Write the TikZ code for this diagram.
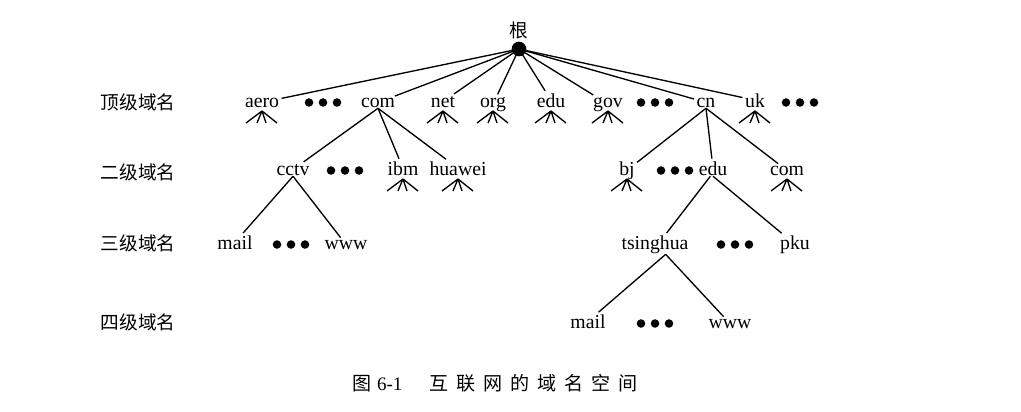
\documentclass[tikz,border=0pt]{standalone}
\usepackage{fontspec}
\setmainfont{Liberation Serif}
\newfontfamily\cjk{Noto Sans CJK SC}
\newfontfamily\cjkcap[LetterSpace=42]{Noto Sans CJK SC}
\usetikzlibrary{calc}
\begin{document}
\begin{tikzpicture}[x=0.75pt,y=-0.75pt, line width=1pt,
  nm/.style={font=\fontsize{14.8pt}{17pt}\selectfont, inner sep=0.3pt, anchor=base},
  lv/.style={font=\cjk\fontsize{14pt}{17pt}\selectfont, inner sep=0pt, anchor=base},
  link/.style={shorten >=1.2pt},
  fan/.pic={\draw (0,0) -- (-16,12) (0,0) -- (-5,12) (0,0) -- (4,12) (0,0) -- (15,12);},
  ell/.pic={\foreach \i in {-14,0,14} \fill (\i,0) circle[radius=3.2pt];}
]
\useasboundingbox (0,0) rectangle (1021,411);

% root
\node[font=\cjk\fontsize{14pt}{16pt}\selectfont, inner sep=0pt] (rootlbl) at (519,30) {根};
\node[circle, fill, inner sep=0pt, minimum size=11pt] (root) at (519,49) {};

% level labels
\node[lv] (L1) at (138,109) {顶级域名};
\node[lv] (L2) at (138,179) {二级域名};
\node[lv] (L3) at (138,250) {三级域名};
\node[lv] (L4) at (138,329) {四级域名};

% top level
\node[nm] (aero) at (262,107) {aero};
\node[nm] (com)  at (378,107) {com};
\node[nm] (net)  at (443,107) {net};
\node[nm] (org)  at (493,107) {org};
\node[nm] (tedu) at (551,107) {edu};
\node[nm] (gov)  at (608,107) {gov};
\node[nm] (cn)   at (706,107) {cn};
\node[nm] (uk)   at (755,107) {uk};
\pic at (323,102.5) {ell};
\pic at (655,102.5) {ell};
\pic at (800,102.5) {ell};

% second level
\node[nm] (cctv)   at (293,175) {cctv};
\node[nm] (ibm)    at (403,175) {ibm};
\node[nm] (huawei) at (458,175) {huawei};
\node[nm] (bj)     at (627,175) {bj};
\node[nm] (cedu)   at (713,175) {edu};
\node[nm] (ccom)   at (787,175) {com};
\pic at (345,170.5) {ell};
\pic at (675,170.5) {ell};

% third level
\node[nm] (mail1)    at (235,249) {mail};
\node[nm] (www1)     at (346,249) {www};
\node[nm] (tsinghua) at (655,249) {tsinghua};
\node[nm] (pku)      at (795,249) {pku};
\pic at (291,244.5) {ell};
\pic at (735,244.5) {ell};

% fourth level
\node[nm] (mail2) at (588,328) {mail};
\node[nm] (www2)  at (730,328) {www};
\pic at (655,323.5) {ell};

% connectors
\foreach \n in {aero,com,net,org,tedu,gov,cn,uk} \draw[link] (root.center) -- (\n);
\draw[link] (com.south) -- (cctv);
\draw[link] (com.south) -- (ibm);
\draw[link] (com.south) -- (huawei);
\draw[link] (cn.south) -- (bj);
\draw[link] (cn.south) -- (cedu);
\draw[link] (cn.south) -- (ccom);
\draw[link] (cctv.south) -- (mail1);
\draw[link] (cctv.south) -- (www1);
\draw[link] ([xshift=-2pt]cedu.south) -- ([xshift=8pt]tsinghua.north);
\draw[link] (cedu.south) -- (pku);
\draw[link] ([xshift=8pt]tsinghua.south) -- (mail2);
\draw[link] ([xshift=8pt]tsinghua.south) -- (www2);

% fans
\foreach \n in {aero,net,org,tedu,gov,uk,ibm,huawei,bj,ccom}
  \pic at ([yshift=-3pt]\n.base) {fan};

% caption
\node[anchor=base west, inner sep=0pt, font=\fontsize{14.3pt}{17pt}\selectfont] (cap) at (352,390)
  {{\cjk 图}\hspace{4pt}6-1\hspace{20pt}{\cjkcap 互联网的域名空间}};
\end{tikzpicture}
\end{document}
